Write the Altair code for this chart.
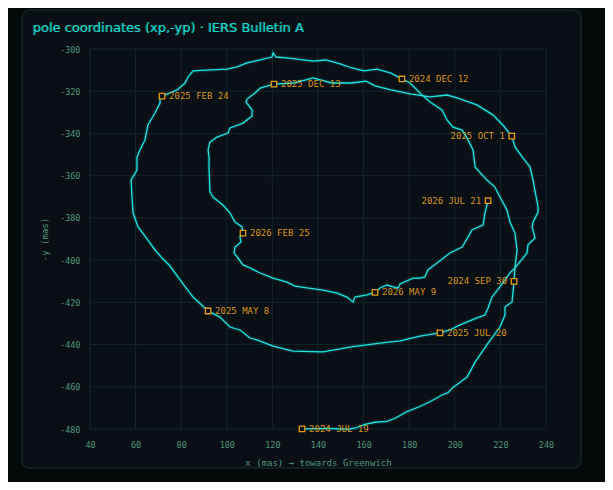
import altair as alt
import pandas as pd

# ---- data (x in mas, plotted y = -yp in mas) ----
X_PATH = [
    133.0, 134.3, 144.4, 149.7, 154.0, 156.7, 160.6, 165.0, 170.3, 173.8, 179.0, 183.9, 189.1,
    194.4, 197.0, 199.2, 203.6, 205.4, 208.9, 214.6, 219.8, 222.0, 222.0, 225.1, 225.5, 226.0,
    226.4, 227.3, 226.4, 224.2, 222.9, 219.8, 217.6, 214.1, 208.9, 208.0, 205.4, 203.2, 199.2,
    196.6, 194.4, 189.1, 184.7, 180.4, 176.8,
    172.0, 165.9, 160.2, 154.9, 149.7, 143.5, 137.8, 127.3, 121.6, 120.3, 119.8, 114.6, 108.9,
    104.5, 100.1, 93.1, 85.2, 83.0, 81.7, 78.2, 76.0, 71.6,
    70.7, 70.7, 68.5, 65.4, 64.1, 61.9, 60.6, 60.6, 58.0, 58.4, 58.9, 61.1, 65.4, 68.5, 71.6,
    75.1, 79.5, 85.2, 91.8,
    97.0, 101.4, 105.8, 110.2, 113.2, 120.3, 129.0, 142.2, 154.0, 167.2, 176.0, 184.7, 193.5,
    197.9, 202.3, 209.7, 213.2, 214.6, 216.3, 219.8, 224.2, 226.4, 231.7, 232.1, 235.2, 233.9,
    234.3, 236.5, 236.5, 234.3, 233.0, 229.9, 226.4, 225.0,
    221.1, 216.8, 209.7, 201.0, 196.6, 189.1, 180.4, 172.0, 165.0, 161.1, 154.9, 146.1, 137.8,
    134.3, 129.0, 120.7,
    114.6, 112.4, 108.9, 108.4, 111.1, 111.1, 107.1, 101.4, 100.5, 95.7, 92.6, 91.8, 92.2,
    92.2, 92.6, 93.9, 98.3, 101.4, 103.6, 106.7, 107.1,
    105.8, 106.2, 103.6, 103.2, 104.9, 107.1, 110.2, 114.6, 120.3, 126.4, 129.9, 135.2, 142.2,
    148.3, 152.7, 155.4, 156.2, 161.5, 165.0,
    167.2, 170.3, 172.9, 175.1, 176.0, 181.7, 184.7, 186.9, 188.2, 192.2, 197.9, 203.2, 205.8,
    207.5, 212.4, 213.2, 214.6,
]
Y_PATH = [
    -479.9, -479.9, -479.7, -480.0, -480.1, -479.4, -477.8, -476.8, -476.4, -474.9, -471.8, -469.7, -467.1,
    -463.9, -462.8, -460.3, -456.8, -455.4, -448.3, -439.3, -431.7, -426.0, -422.2, -419.8, -415.6, -410.1,
    -403.3, -395.2, -387.2, -382.0, -376.3, -370.1, -365.4, -362.1, -355.9, -347.8, -342.2, -338.4, -337.0,
    -333.6, -328.9, -325.1, -320.8, -316.1, -314.2,
    -311.4, -309.5, -310.4, -309.0, -307.1, -305.2, -305.7, -304.3, -303.8, -301.9, -303.8, -305.2, -306.6,
    -308.5, -309.5, -309.9, -310.4, -313.3, -316.1, -319.4, -320.4, -322.3,
    -323.2, -325.6, -330.3, -336.0, -343.1, -347.8, -351.2, -357.3, -362.1, -370.1, -377.7, -384.3, -390.5,
    -395.2, -399.0, -402.8, -409.4, -417.5, -424.1,
    -427.0, -431.7, -433.1, -436.9, -437.8, -440.7, -443.1, -443.5, -441.2, -439.3, -438.3, -436.0, -434.5,
    -433.1, -430.7, -427.4, -426.0, -422.7, -417.5, -412.7, -406.1, -403.7, -396.6, -392.8, -389.5, -384.3,
    -382.0, -377.2, -374.8, -362.1, -355.9, -351.6, -346.4, -341.3,
    -336.0, -331.3, -326.5, -323.2, -321.8, -322.7, -321.3, -319.4, -317.5, -315.2, -316.1, -316.1, -313.7,
    -314.7, -316.1, -316.6,
    -318.5, -320.8, -323.7, -325.1, -328.9, -331.7, -335.1, -337.4, -339.8, -341.7, -344.1, -347.8, -351.2,
    -355.9, -367.7, -370.1, -373.9, -377.7, -382.0, -384.3, -387.2,
    -389.1, -391.4, -393.8, -396.6, -399.0, -402.3, -403.7, -406.1, -408.5, -410.4, -412.3, -413.2, -414.2,
    -415.6, -417.5, -419.8, -417.5, -416.5, -415.3,
    -413.2, -411.8, -412.7, -413.2, -411.3, -408.5, -408.5, -408.0, -404.7, -401.4, -396.6, -393.8, -389.1,
    -385.7, -383.4, -377.7, -371.8,
]

MARK_DATES = ["2024 JUL 19", "2024 SEP 30", "2024 DEC 12", "2025 FEB 24", "2025 MAY 8",
              "2025 JUL 20", "2025 OCT 1", "2025 DEC 13", "2026 FEB 25", "2026 MAY 9", "2026 JUL 21"]
MARK_X = [133.0, 226.0, 176.8, 71.6, 91.8, 193.5, 225.0, 120.7, 107.1, 165.0, 214.6]
MARK_Y = [-479.9, -410.1, -314.2, -322.3, -424.1, -434.5, -341.3, -316.6, -387.2, -415.3, -371.8]
LEFT_LABELS = ["2024 SEP 30", "2025 OCT 1", "2026 JUL 21"]

X_TICKS = [40, 60, 80, 100, 120, 140, 160, 180, 200, 220, 240]
Y_TICKS = [-480, -460, -440, -420, -400, -380, -360, -340, -320, -300]

TITLE = "pole coordinates (xp,-yp) · IERS Bulletin A"
X_TITLE = "x (mas) → towards Greenwich"
Y_TITLE = "-y (mas)"

# ---- styles ----
PAGE_BG = "#030808"
PANEL_BG = "#0a0e15"
PANEL_STROKE = "#173331"
GRID = "#10272a"
TICK_COL = "#4f9478"
LINE_COL = "#1ee3e0"
MARK_COL = "#e39b12"
LABEL_COL = "#d6961f"
TITLE_COL = "#1ad4d6"
MONO = "DejaVu Sans Mono"

path = pd.DataFrame({"i": list(range(len(X_PATH))), "x": X_PATH, "y": Y_PATH})
marks = pd.DataFrame({"date": MARK_DATES, "x": MARK_X, "y": MARK_Y})
marks["side"] = ["left" if d in LEFT_LABELS else "right" for d in MARK_DATES]

xgrid = pd.DataFrame({"t": X_TICKS, "lo": min(Y_TICKS), "hi": max(Y_TICKS)})
ygrid = pd.DataFrame({"t": Y_TICKS, "lo": min(X_TICKS), "hi": max(X_TICKS)})

xs = alt.Scale(domain=[40, 240], nice=False, zero=False)
ys = alt.Scale(domain=[-480, -300], nice=False, zero=False)

xaxis = alt.Axis(values=X_TICKS, title=X_TITLE, grid=False, ticks=False, domain=False, zindex=1,
                 labelFlush=False, labelPadding=11, titlePadding=10, labelExpr="'' + datum.value")
yaxis = alt.Axis(values=Y_TICKS, title=Y_TITLE, grid=False, ticks=False, domain=False, zindex=1,
                 labelFlush=False, labelPadding=10, titlePadding=10, labelExpr="'' + datum.value")


def X(f):
    return alt.X(f, scale=xs, axis=xaxis)


def Y(f):
    return alt.Y(f, scale=ys, axis=yaxis)


one = pd.DataFrame({"k": [0]})

panel = alt.Chart(one).mark_rect(
    fill=PANEL_BG, stroke=PANEL_STROKE, strokeWidth=1, cornerRadius=7
).encode(x=alt.value(-68), x2=alt.value(491), y=alt.value(-39), y2=alt.value(419))

vgrid = alt.Chart(xgrid).mark_rule(color=GRID, strokeWidth=1).encode(
    x=X("t:Q"), y=Y("lo:Q"), y2="hi:Q",
)
hgrid = alt.Chart(ygrid).mark_rule(color=GRID, strokeWidth=1).encode(
    y=Y("t:Q"), x=X("lo:Q"), x2="hi:Q",
)

glow = alt.Chart(path).mark_line(color=LINE_COL, strokeWidth=4, opacity=0.12).encode(
    x=X("x:Q"), y=Y("y:Q"), order="i:Q"
)
line = alt.Chart(path).mark_line(color=LINE_COL, strokeWidth=1.3).encode(
    x=X("x:Q"), y=Y("y:Q"), order="i:Q"
)

pts = alt.Chart(marks).mark_point(
    shape="square", size=30, filled=True, fill=PANEL_BG, stroke=MARK_COL, strokeWidth=1.3, opacity=1
).encode(x=X("x:Q"), y=Y("y:Q"))

lab_r = alt.Chart(marks).transform_filter(alt.datum.side == "right").mark_text(
    align="left", baseline="middle", dx=7, font=MONO, fontSize=9, color=LABEL_COL
).encode(x=X("x:Q"), y=Y("y:Q"), text="date:N")
lab_l = alt.Chart(marks).transform_filter(alt.datum.side == "left").mark_text(
    align="right", baseline="middle", dx=-7, font=MONO, fontSize=9, color=LABEL_COL
).encode(x=X("x:Q"), y=Y("y:Q"), text="date:N")

title_glow = alt.Chart(one).mark_text(
    text=TITLE, align="left", baseline="alphabetic", font="DejaVu Sans", fontSize=13,
    color="#12e0a0", opacity=0.45
).encode(x=alt.value(-58), y=alt.value(-17))
title = alt.Chart(one).mark_text(
    text=TITLE, align="left", baseline="alphabetic", font="DejaVu Sans", fontSize=13,
    color=TITLE_COL
).encode(x=alt.value(-57), y=alt.value(-17))

chart = alt.layer(panel, vgrid, hgrid, glow, line, pts, lab_r, lab_l, title_glow, title).properties(
    width=456, height=380,
    autosize=alt.AutoSizeParams(type="none"),
    padding={"left": 82, "top": 41, "right": 59, "bottom": 53},
    background=PAGE_BG,
).configure_view(strokeWidth=0).configure_axis(
    labelFont=MONO, labelFontSize=8.5, labelColor=TICK_COL,
    titleFont=MONO, titleFontSize=9, titleColor=TICK_COL, titleFontWeight="normal",
)

chart.save("out.html", embed_options={"renderer": "svg", "actions": False})
